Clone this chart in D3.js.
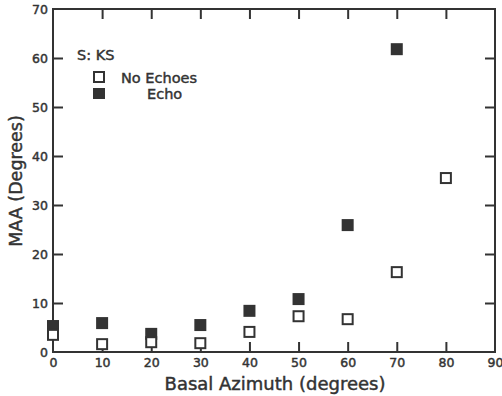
<!DOCTYPE html>
<html><head><meta charset="utf-8">
<script src="https://cdn.jsdelivr.net/npm/d3@7"></script>
<style>body{margin:0;background:#fff}svg{display:block}text{font-family:"DejaVu Sans",sans-serif;fill:#333;stroke:#333;stroke-width:0.45px}</style>
</head><body><svg id="c" width="502" height="396"></svg>
<script>
const azimuth = [0,10,20,30,40,50,60,70,80];
const noEchoes = [3.5,1.6,2.0,1.8,4.1,7.3,6.7,16.3,35.5];
const echo = [5.3,5.9,3.7,5.5,8.4,10.8,25.9,61.8,null];
const xTicks = [0,10,20,30,40,50,60,70,80,90];
const yTicks = [0,10,20,30,40,50,60,70];

const svg = d3.select("#c");
const L=53,R=495,T=9,B=352;
const x = d3.scaleLinear().domain([0,90]).range([L,R]);
const y = d3.scaleLinear().domain([0,70]).range([B,T]);
const col="#333";
const tl=10;

svg.append("rect").attr("x",L).attr("y",T).attr("width",R-L).attr("height",B-T)
  .attr("fill","none").attr("stroke",col).attr("stroke-width",2);

const bx = d3.axisBottom(x).tickValues(xTicks).tickSize(-tl).tickPadding(6).tickSizeOuter(0);
const gB = svg.append("g").attr("transform",`translate(0,${B})`).call(bx);
const gT = svg.append("g").attr("transform",`translate(0,${T})`).call(d3.axisTop(x).tickValues(xTicks.slice(1,-1)).tickSize(-tl).tickFormat("").tickSizeOuter(0));
const gL = svg.append("g").attr("transform",`translate(${L},0)`).call(d3.axisLeft(y).tickValues(yTicks).tickSize(-tl).tickPadding(5).tickSizeOuter(0));
const gR = svg.append("g").attr("transform",`translate(${R},0)`).call(d3.axisRight(y).tickValues(yTicks.slice(1,-1)).tickSize(-tl).tickFormat("").tickSizeOuter(0));
[gB,gT,gL,gR].forEach(g=>{
  g.select(".domain").remove();
  g.selectAll(".tick line").attr("stroke",col).attr("stroke-width",2);
  g.selectAll(".tick text").style("font-size","12.5px").attr("fill",col);
});
gB.selectAll(".tick").filter(d=>d===0||d===90).select("line").remove();
gL.selectAll(".tick").filter(d=>d===0||d===70).select("line").remove();

const s=12;
svg.append("g").selectAll("rect").data(azimuth.map((a,i)=>[a,echo[i]]).filter(d=>d[1]!=null))
  .join("rect").attr("x",d=>x(d[0])-s/2).attr("y",d=>y(d[1])-s/2).attr("width",s).attr("height",s)
  .attr("fill",col);
svg.append("g").selectAll("rect").data(azimuth.map((a,i)=>[a,noEchoes[i]]))
  .join("rect").attr("x",d=>x(d[0])-s/2+1).attr("y",d=>y(d[1])-s/2+1).attr("width",s-2).attr("height",s-2)
  .attr("fill","#fff").attr("stroke",col).attr("stroke-width",2);

svg.append("text").attr("x",77).attr("y",60).text("S: KS").style("font-size","14.5px");
svg.append("rect").attr("x",94).attr("y",72).attr("width",10).attr("height",10).attr("fill","#fff").attr("stroke",col).attr("stroke-width",2);
svg.append("rect").attr("x",93).attr("y",88).attr("width",12).attr("height",11).attr("fill",col);
svg.append("text").attr("x",121).attr("y",83).text("No Echoes").style("font-size","14.5px");
svg.append("text").attr("x",147).attr("y",99).text("Echo").style("font-size","14.5px");

svg.append("text").attr("x",275).attr("y",390).attr("text-anchor","middle").text("Basal Azimuth (degrees)")
  .style("font-size","18px");
svg.append("text").attr("transform",`translate(22,181) rotate(-90)`).attr("text-anchor","middle").text("MAA (Degrees)")
  .style("font-size","17.5px");
</script></body></html>
